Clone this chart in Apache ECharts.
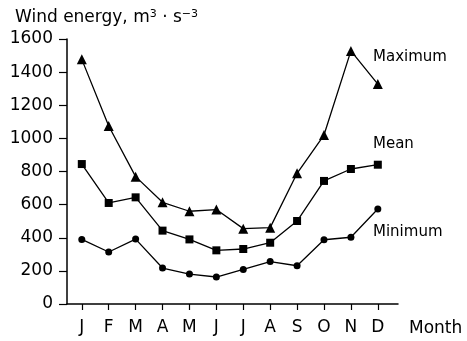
<!DOCTYPE html>
<html><head><meta charset="utf-8">
<script src="https://cdn.jsdelivr.net/npm/echarts@6/dist/echarts.min.js"></script>
<style>html,body{margin:0;padding:0;background:#fff}#c{width:467px;height:341px}</style>
</head><body><div id="c"></div>
<script>
const months = ['J','F','M','A','M','J','J','A','S','O','N','D'];
const monthIdx = [1,2,3,4,5,6,7,8,9,10,11,12];
const maximum = [1477,1075,769,614,560,570,455,461,789,1020,1528,1328];
const mean = [845,610,644,443,390,324,332,370,501,743,815,841];
const minimum = [390,314,392,217,181,163,209,256,231,388,403,574];

const FONT = 'DejaVu Sans';
const chart = echarts.init(document.getElementById('c'), null, {renderer:'canvas'});
function pts(arr){ return arr.map((v,i)=>[monthIdx[i], v]); }
const lineStyle = {color:'#000', width:1.3};
chart.setOption({
  animation:false,
  backgroundColor:'#fff',
  title:{text:'Wind energy, m{s|3} · s{s|−3}', left:10, top:4,
    textStyle:{fontFamily:FONT, fontSize:17, fontWeight:'normal', color:'#000',
      rich:{s:{fontFamily:FONT, fontSize:11, color:'#000', padding:[0,0,7,0]}}}},
  grid:{left:67, right:69, top:39, bottom:37, containLabel:false},
  xAxis:{type:'value', min:0.45, max:12.75,
    axisLine:{show:true, lineStyle:{color:'#000', width:1.5}},
    axisTick:{show:true, inside:false, length:6, customValues:monthIdx, lineStyle:{color:'#000', width:1.2}},
    axisLabel:{customValues:monthIdx, formatter:v=>months[Math.round(v)-1], margin:15,
      fontFamily:FONT, fontSize:17, color:'#000'},
    splitLine:{show:false}},
  yAxis:{type:'value', min:0, max:1600, interval:200,
    axisLine:{show:true, lineStyle:{color:'#000', width:1.5}},
    axisTick:{show:true, inside:false, length:8, lineStyle:{color:'#000', width:1.2}},
    axisLabel:{margin:14, formatter:v=>String(v), fontFamily:FONT, fontSize:17, color:'#000'},
    splitLine:{show:false}},
  graphic:[
    {type:'text', left:373, top:50, style:{text:'Maximum', font:'15px "DejaVu Sans"', fill:'#000'}},
    {type:'text', left:373, top:137, style:{text:'Mean', font:'15px "DejaVu Sans"', fill:'#000'}},
    {type:'text', left:373, top:225, style:{text:'Minimum', font:'15px "DejaVu Sans"', fill:'#000'}},
    {type:'text', left:409, top:320, style:{text:'Month', font:'17px "DejaVu Sans"', fill:'#000'}}
  ],
  series:[
    {name:'Maximum', type:'line', data:pts(maximum), symbol:'triangle', symbolSize:10,
      itemStyle:{color:'#000'}, lineStyle:lineStyle},
    {name:'Mean', type:'line', data:pts(mean), symbol:'rect', symbolSize:8,
      itemStyle:{color:'#000'}, lineStyle:lineStyle},
    {name:'Minimum', type:'line', data:pts(minimum), symbol:'circle', symbolSize:7,
      itemStyle:{color:'#000'}, lineStyle:lineStyle}
  ]
});
</script></body></html>
